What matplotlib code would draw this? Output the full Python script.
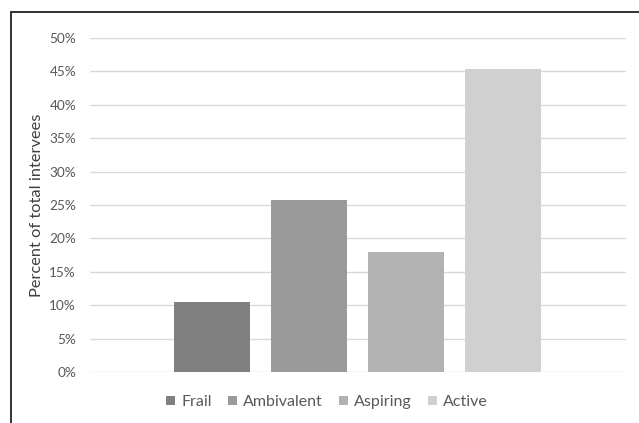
import matplotlib
matplotlib.use("Agg")
import matplotlib.pyplot as plt
from matplotlib.patches import Rectangle, Patch
from matplotlib.ticker import FuncFormatter

categories = ["Frail", "Ambivalent", "Aspiring", "Active"]
values = [10.5, 25.8, 17.9, 45.4]
colors = ["#808080", "#9a9a9a", "#b2b2b2", "#d0d0d0"]
yticks = [0, 5, 10, 15, 20, 25, 30, 35, 40, 45, 50]

plt.rcParams['font.family'] = ['Lato', 'DejaVu Sans']

W, H = 639, 423
fig = plt.figure(figsize=(W / 100, H / 100), dpi=100)
ax = fig.add_axes([90 / W, 1 - 372 / H, (626 - 90) / W, (372 - 38) / H])

x = list(range(len(categories)))
ax.bar(x, values, width=0.78, color=colors, zorder=3)
ax.set_xlim(-1.258, 4.268)
ax.set_ylim(0, 50)
ax.set_yticks(yticks)
ax.yaxis.set_major_formatter(FuncFormatter(lambda v, p: f"{int(v)}%"))
ax.set_xticks([])
ax.grid(axis='y', color='#d9d9d9', linewidth=1.0, zorder=0)
for s in ax.spines.values():
    s.set_visible(False)
ax.tick_params(axis='y', length=0, pad=10, labelsize=9.8, labelcolor='#595959')
ax.set_ylabel("Percent of total intervees", fontsize=11.8, color='#404040', labelpad=4)

handles = [Patch(facecolor=c, edgecolor='none') for c in colors]
fig.legend(handles, categories, loc='center', bbox_to_anchor=(327 / W, 1 - 402 / H),
           ncol=4, frameon=False, fontsize=11.5, labelcolor='#595959',
           handlelength=0.55, handleheight=0.55, handletextpad=0.4, columnspacing=1.0)

fig.patches.append(Rectangle((11 / W, -0.1), 1.2, 1 - 12 / H + 0.1, transform=fig.transFigure,
                             fill=False, edgecolor='#222222', linewidth=1.3, zorder=10))

fig.savefig("out.png", dpi=100)
